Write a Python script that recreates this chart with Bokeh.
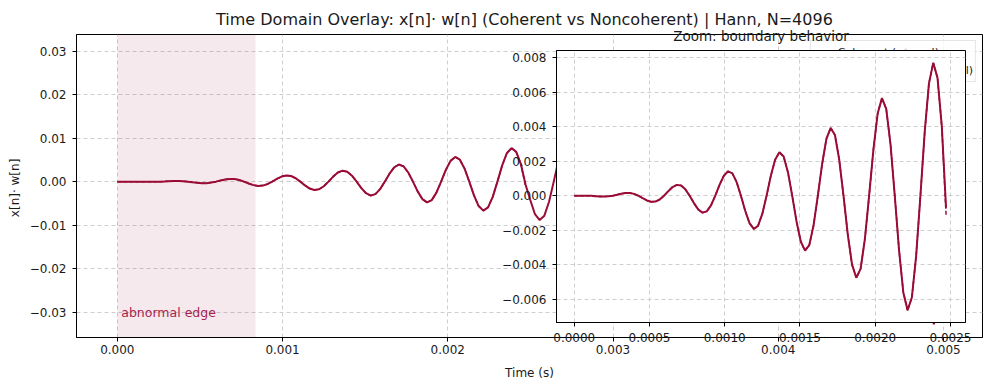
import numpy as np
from bokeh.plotting import figure
from bokeh.models import (ColumnDataSource, Range1d, FixedTicker, BoxAnnotation,
                          CustomJSTickFormatter, Legend, LegendItem)
from bokeh.core.properties import value
from bokeh.embed import file_html
from bokeh.resources import INLINE

# ---------------- data ----------------
SAMPLE_STEP = 2.84e-5          # seconds between listed points
coherent = [
    0, 0.000001, 0.000002, 0, -0.000009, -0.000024, -0.000039, -0.000046, -0.000035, 0, 0.000055, 0.000115,
    0.000157, 0.000160, 0.000107, 0, -0.000140, -0.000274, -0.000354, -0.000342, -0.000219, 0, 0.000265, 0.000501,
    0.000630, 0.000592, 0.000370, 0, -0.000429, -0.000796, -0.000984, -0.000910, -0.000560, 0, 0.000632, 0.001160,
    0.001417, 0.001296, 0.000789, 0, -0.000875, -0.001592, -0.001929, -0.001751, -0.001058, 0, 0.001157, 0.002092,
    0.002519, 0.002273, 0.001367, 0, -0.001478, -0.002660, -0.003188, -0.002864, -0.001714, 0, 0.001839, 0.003296,
    0.003936, 0.003523, 0.002101, 0, -0.002239, -0.004000, -0.004762, -0.004250, -0.002528, 0, 0.002679, 0.004773,
    0.005668, 0.005046, 0.002994, 0, -0.003158, -0.005614, -0.006652, -0.005909, -0.003499, 0, 0.003676, 0.006523,
    0.007714, 0.006841, 0.004043, -0.000700, -0.004221, -0.007478, -0.008830, -0.007817, -0.004613, 0, 0.004815, 0.008517,
    0.010040, 0.008878, 0.005232, 0, -0.005447, -0.009622, -0.011330, -0.010006, -0.005889, 0, 0.006117, 0.010795,
    0.012700, 0.011201, 0.006585, 0, -0.006826, -0.012033, -0.014140, -0.012461, -0.007320, 0, 0.007573, 0.013338,
    0.015660, 0.013788, 0.008092, 0, -0.008358, -0.014710, -0.017260, -0.015181, -0.008903, 0, 0.009182, 0.016147,
    0.018930, 0.016640, 0.009752, 0, -0.010043, -0.017649, -0.020680, -0.018164, -0.010638, 0, 0.010942, 0.019217,
    0.022500, 0.019754, 0.011562, 0, -0.011879, -0.020850, -0.024400, -0.021410, -0.012524, 0, 0.012853, 0.022548,
    0.026370, 0.023128, 0.013522, 0, -0.013864, -0.024310, -0.028420, -0.024912, -0.014558, 0, 0.014912, 0.026137,
    0.030540, 0.026760, 0.015632, 0, -0.015998, -0.028027, -0.032740, -0.028672,
]
INSET_COUNT = 88                       # points shown in the zoom panel
noncoherent_end = [-0.0011]            # noncoherent differs only at the last boundary sample
noncoherent = coherent[:INSET_COUNT - 1] + noncoherent_end

edge_region = (0.0, 0.000836)          # "abnormal edge" shaded span (s)
edge_label_pos = (0.000024, -0.03)

main_x_ticks = [0.000, 0.001, 0.002, 0.003, 0.004, 0.005]
main_y_ticks = [-0.03, -0.02, -0.01, 0.00, 0.01, 0.02, 0.03]
inset_x_ticks = [0.0, 0.0005, 0.0010, 0.0015, 0.0020, 0.0025]
inset_y_ticks = [-0.006, -0.004, -0.002, 0.0, 0.002, 0.004, 0.006, 0.008]

TITLE = "Time Domain Overlay: x[n]·  w[n]  (Coherent vs Noncoherent) | Hann, N=4096"
INSET_TITLE = "Zoom: boundary behavior"
LABELS = ["Coherent (normal)", "Noncoherent (abnormal)"]

# ---------------- styling ----------------
FONT = "DejaVu Sans"
LINE_COLOR = "#9a0c36"
GRID_COLOR = "#cfcfcf"
TEXT_COLOR = "#1a1a1a"

t = np.arange(len(coherent)) * SAMPLE_STEP
src_main = ColumnDataSource(dict(t=t, y=coherent))
src_inset_c = ColumnDataSource(dict(t=t[:INSET_COUNT], y=coherent[:INSET_COUNT]))
src_inset_n = ColumnDataSource(dict(t=t[:INSET_COUNT], y=noncoherent))


def fmt(digits):
    return CustomJSTickFormatter(args=dict(d=digits), code="""
        let v = Math.abs(tick) < 1e-12 ? 0 : tick;
        return v.toFixed(d).replace('-', '\u2212');
    """)


def style_axes(p, xdigits, ydigits, xticks, yticks, xstand=3):
    p.xaxis.ticker = FixedTicker(ticks=xticks)
    p.yaxis.ticker = FixedTicker(ticks=yticks)
    p.xaxis.formatter = fmt(xdigits)
    p.yaxis.formatter = fmt(ydigits)
    for ax in (p.xaxis, p.yaxis):
        ax.major_label_text_font = FONT
        ax.major_label_text_font_size = "12px"
        ax.major_label_text_color = TEXT_COLOR
        ax.axis_label_text_font = FONT
        ax.axis_label_text_font_size = "12px"
        ax.axis_label_text_font_style = "normal"
        ax.axis_label_text_color = TEXT_COLOR
        ax.minor_tick_line_color = None
        ax.major_tick_in = 0
        ax.major_tick_out = 4
        ax.axis_line_color = "black"
        ax.major_tick_line_color = "black"
    p.yaxis.major_label_standoff = 6
    p.xaxis.major_label_standoff = xstand
    p.xaxis.axis_label_standoff = 9
    for g in (p.xgrid, p.ygrid):
        g.grid_line_color = GRID_COLOR
        g.grid_line_dash = "4 3"
        g.grid_line_width = 1
    p.outline_line_color = "black"
    p.outline_line_width = 1


# ---------------- main figure ----------------
main_left, main_top = 4, 2
p = figure(width=979, height=380,
           min_border_left=67, min_border_right=1, min_border_top=27, min_border_bottom=45,
           x_range=Range1d(-0.000247, 0.005236), y_range=Range1d(-0.0358, 0.0338),
           output_backend="svg", toolbar_location=None,
           x_axis_label="Time (s)", y_axis_label="x[n]·  w[n]",
           styles={"position": "absolute", "left": f"{main_left}px", "top": f"{main_top}px"})
p.title.text = TITLE
p.title.text_font = FONT
p.title.text_font_size = "16px"
p.title.text_font_style = "normal"
p.title.text_color = TEXT_COLOR
p.title.align = "center"
p.title.standoff = 11
style_axes(p, 3, 2, main_x_ticks, main_y_ticks)

shade = BoxAnnotation(left=edge_region[0], right=edge_region[1],
                      fill_color=LINE_COLOR, fill_alpha=0.09, line_color=None, level="underlay")
p.add_layout(shade)

r1 = p.line("t", "y", source=src_main, line_color=LINE_COLOR, line_width=2)
r2 = p.line("t", "y", source=src_inset_n, line_color=LINE_COLOR, line_width=1.5, line_dash="4 2")

p.text(x=[edge_label_pos[0]], y=[edge_label_pos[1]], text=["abnormal edge"],
       text_font=value(FONT), text_font_size="12.5px", text_color="#a3244f",
       text_baseline="alphabetic", text_align="left")

legend = Legend(items=[LegendItem(label=LABELS[0], renderers=[r1]),
                       LegendItem(label=LABELS[1], renderers=[r2])],
                location="top_right")
legend.margin = 6
legend.padding = 2
legend.spacing = 0
legend.label_height = 18
legend.glyph_height = 18
legend.label_text_font = FONT
legend.label_text_font_size = "11px"
legend.label_text_color = TEXT_COLOR
legend.border_line_color = "#cccccc"
legend.background_fill_alpha = 0.8
p.add_layout(legend)

# ---------------- inset figure (overlaid) ----------------
inset_left, inset_top = 496, 16
inset = figure(width=481, height=336,
               min_border_left=60, min_border_right=12, min_border_top=34, min_border_bottom=30,
               x_range=Range1d(-0.000118, 0.0026), y_range=Range1d(-0.00736, 0.00843),
               output_backend="svg", toolbar_location=None,
               styles={"position": "absolute", "left": f"{inset_left}px", "top": f"{inset_top}px"})
inset.border_fill_alpha = 0
inset.background_fill_color = "white"
inset.title.text = INSET_TITLE
inset.title.text_font = FONT
inset.title.text_font_size = "13.5px"
inset.title.text_font_style = "normal"
inset.title.text_color = TEXT_COLOR
inset.title.align = "center"
inset.title.standoff = 14
style_axes(inset, 4, 3, inset_x_ticks, inset_y_ticks, xstand=6)

inset.line("t", "y", source=src_inset_n, line_color=LINE_COLOR, line_width=1.5, line_dash="4 2")
inset.line("t", "y", source=src_inset_c, line_color=LINE_COLOR, line_width=2)

open("out.html", "w").write(file_html([p, inset], INLINE))
